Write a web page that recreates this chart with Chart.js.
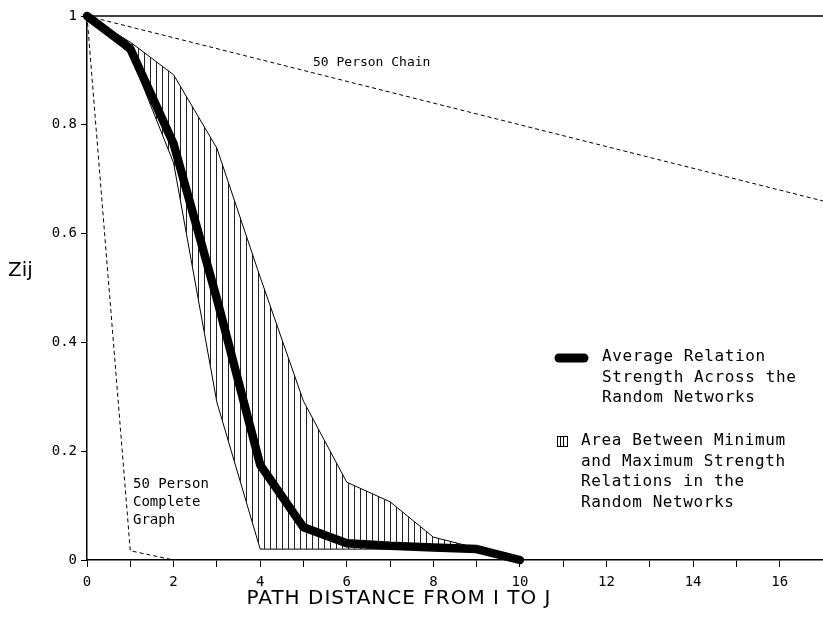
<!DOCTYPE html>
<html>
<head>
<meta charset="utf-8">
<script src="https://cdn.jsdelivr.net/npm/chart.js@4/dist/chart.umd.min.js"></script>
<style>
  html, body { margin: 0; padding: 0; background: #fff; }
  #wrap { width: 823px; height: 624px; }
</style>
</head>
<body>
<div id="wrap"><canvas id="chart" width="823" height="624"></canvas></div>
<script>
// path distance for the random-network curves
const distance = [0, 1, 2, 3, 4, 5, 6, 7, 8, 9, 10];
const avgStrength = [1, 0.94, 0.765, 0.48, 0.175, 0.06, 0.031, 0.026, 0.023, 0.02, 0];
const maxStrength = [1, 0.952, 0.892, 0.757, 0.52, 0.292, 0.143, 0.107, 0.042, 0.022, 0];
const minStrength = [1, 0.93, 0.73, 0.29, 0.02, 0.02, 0.02, 0.02, 0.02, 0.018, 0];

// reference networks
const chainDistance = [0, 17];
const chainStrength = [1, 0.66];
const completeDistance = [0, 1, 2];
const completeStrength = [1, 0.017, 0];

const xLabelTicks = [0, 2, 4, 6, 8, 10, 12, 14, 16];

const MONO = "'DejaVu Sans Mono', monospace";

function pts(xs, ys) {
  return xs.map((x, i) => ({ x: x, y: ys[i] }));
}

function hatchPattern() {
  const c = document.createElement("canvas");
  c.width = 6;
  c.height = 6;
  const g = c.getContext("2d");
  g.fillStyle = "#222";
  g.fillRect(0, 0, 1, 6);
  return g.createPattern(c, "repeat");
}

const hatch = hatchPattern();

const textPlugin = {
  id: "textPlugin",
  afterDraw(chart) {
    const ctx = chart.ctx;
    const area = chart.chartArea;
    ctx.save();

    // top frame
    ctx.strokeStyle = "#000";
    ctx.lineWidth = 1.5;
    ctx.beginPath();
    ctx.moveTo(area.left, area.top);
    ctx.lineTo(area.right, area.top);
    ctx.stroke();

    ctx.fillStyle = "#000";
    ctx.textBaseline = "middle";

    // axis titles
    ctx.font = "20px 'DejaVu Sans'";
    ctx.textAlign = "left";
    ctx.fillText("Zij", 8, 271);
    ctx.textAlign = "center";
    ctx.letterSpacing = "1px";
    ctx.fillText("PATH DISTANCE FROM I TO J", 399, 599);
    ctx.letterSpacing = "0px";

    // annotations
    ctx.textAlign = "left";
    ctx.font = "13px " + MONO;
    ctx.fillText("50 Person Chain", 313, 63);
    ctx.font = "14px " + MONO;
    ["50 Person", "Complete", "Graph"].forEach((t, i) => {
      ctx.fillText(t, 133, 484 + i * 18);
    });

    // legend
    ctx.lineWidth = 9;
    ctx.lineCap = "round";
    ctx.beginPath();
    ctx.moveTo(559, 358);
    ctx.lineTo(584, 358);
    ctx.stroke();

    ctx.font = "16px " + MONO;
    ctx.letterSpacing = "0.6px";
    ["Average Relation", "Strength Across the", "Random Networks"].forEach((t, i) => {
      ctx.fillText(t, 602, 357 + i * 20.5);
    });

    ctx.lineWidth = 1;
    ctx.lineCap = "butt";
    ctx.strokeRect(557.5, 436.5, 10, 10);
    [560.5, 563.5].forEach((x) => {
      ctx.beginPath();
      ctx.moveTo(x, 436.5);
      ctx.lineTo(x, 446.5);
      ctx.stroke();
    });
    ["Area Between Minimum", "and Maximum Strength", "Relations in the", "Random Networks"].forEach((t, i) => {
      ctx.fillText(t, 581, 441 + i * 20.5);
    });
    ctx.restore();
  },
};

new Chart(document.getElementById("chart"), {
  type: "line",
  data: {
    datasets: [
      {
        label: "Average",
        data: pts(distance, avgStrength),
        borderColor: "#000",
        borderWidth: 8.5,
        borderJoinStyle: "round",
        borderCapStyle: "round",
        pointRadius: 0,
        fill: false,
        clip: false,
        order: 0,
      },
      {
        label: "Maximum",
        data: pts(distance, maxStrength),
        borderColor: "#000",
        borderWidth: 1,
        backgroundColor: hatch,
        pointRadius: 0,
        fill: "+1",
        order: 2,
      },
      {
        label: "Minimum",
        data: pts(distance, minStrength),
        borderColor: "#000",
        borderWidth: 1,
        pointRadius: 0,
        fill: false,
        order: 3,
      },
      {
        label: "50 Person Chain",
        data: pts(chainDistance, chainStrength),
        borderColor: "#000",
        borderWidth: 1,
        borderDash: [4, 3],
        pointRadius: 0,
        fill: false,
        order: 1,
      },
      {
        label: "50 Person Complete Graph",
        data: pts(completeDistance, completeStrength),
        borderColor: "#000",
        borderWidth: 1,
        borderDash: [4, 3],
        pointRadius: 0,
        fill: false,
        order: 1,
      },
    ],
  },
  options: {
    responsive: false,
    animation: false,
    layout: { padding: { top: 16, right: 0, left: 0, bottom: 0 } },
    plugins: {
      legend: { display: false },
      tooltip: { enabled: false },
    },
    elements: { line: { tension: 0 } },
    scales: {
      x: {
        type: "linear",
        min: 0,
        max: 17,
        afterFit: (s) => {
          s.height = 64;
          s.paddingRight = 0;
        },
        afterBuildTicks: (s) => {
          s.ticks = [];
          for (let v = 0; v <= 17; v++) s.ticks.push({ value: v });
        },
        ticks: {
          autoSkip: false,
          maxRotation: 0,
          padding: 7,
          color: "#000",
          font: { family: MONO, size: 14 },
          callback: (v) => (xLabelTicks.includes(v) ? String(v) : ""),
        },
        grid: {
          display: true,
          drawOnChartArea: false,
          drawTicks: true,
          tickLength: 7,
          tickColor: "#000",
          tickWidth: 1,
        },
        border: { display: true, color: "#000", width: 1.5 },
      },
      y: {
        min: 0,
        max: 1,
        afterFit: (s) => { s.width = 87; },
        ticks: {
          stepSize: 0.2,
          padding: 4,
          color: "#000",
          font: { family: MONO, size: 14 },
          callback: (v) => (v === 0 || v === 1 ? String(v) : v.toFixed(1)),
        },
        grid: {
          display: true,
          drawOnChartArea: false,
          drawTicks: true,
          tickLength: 6,
          tickColor: "#000",
          tickWidth: 1,
        },
        border: { display: true, color: "#000", width: 1.5 },
      },
    },
  },
  plugins: [textPlugin],
});
</script>
</body>
</html>
